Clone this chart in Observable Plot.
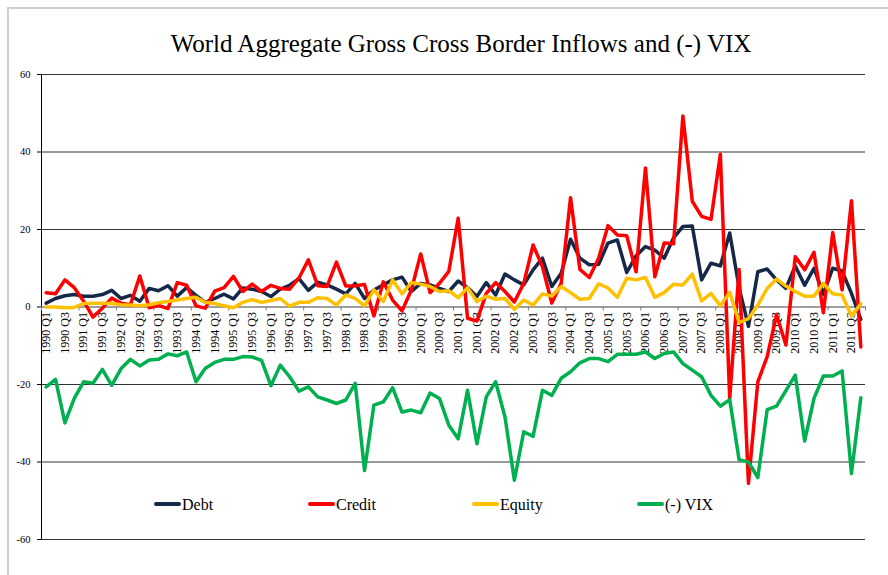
<!DOCTYPE html>
<html>
<head>
<meta charset="utf-8">
<script src="https://cdn.jsdelivr.net/npm/d3@7"></script>
<script src="https://cdn.jsdelivr.net/npm/@observablehq/plot@0.6"></script>
<style>
  html, body { margin: 0; padding: 0; background: #fff; }
  body { width: 888px; height: 575px; overflow: hidden; position: relative; font-family: "Liberation Serif", "Times New Roman", serif; }
  #frame { position: absolute; left: 7px; top: 7px; width: 900px; height: 600px; border: 2px solid #cfcfcf; box-sizing: border-box; pointer-events: none; }
  #title { position: relative; height: 62px; }
  #title span { position: absolute; left: 0; width: 922px; top: 31px; text-align: center; font-size: 25px; line-height: 25px; color: #000; white-space: nowrap; }
  #chart { position: relative; height: 513px; }
  #chart svg, #chart svg text { font-family: "Liberation Serif", "Times New Roman", serif !important; }
  .lg-sw { position: absolute; height: 4px; width: 27px; border-radius: 2px; }
  .lg-tx { position: absolute; font-size: 16px; line-height: 16px; color: #000; white-space: nowrap; }
</style>
</head>
<body>
<div id="frame"></div>
<div id="title"><span>World Aggregate Gross Cross Border Inflows and (-) VIX</span></div>
<div id="chart"></div>
<div id="legend"></div>
<script>
// Categories
const years = [1990,1991,1992,1993,1994,1995,1996,1997,1998,1999,2000,2001,2002,2003,2004,2005,2006,2007,2008,2009,2010,2011];
const quarterNames = ["Q1","Q2","Q3","Q4"];
const categories = years.flatMap(y => quarterNames.map(q => `${y} ${q}`));

// Series (quarterly, 1990 Q1 - 2011 Q4)
const debt = [
  1.0, 2.2, 2.9, 3.2, 2.8, 2.8, 3.2, 4.3, 2.2, 3.0,
  1.5, 4.8, 4.2, 5.5, 2.8, 5.0, 3.0, 1.2, 2.2, 3.3,
  2.1, 4.9, 4.6, 4.0, 2.7, 4.6, 5.6, 7.3, 4.3, 6.4,
  5.7, 4.6, 3.4, 6.1, 2.2, 4.4, 5.7, 7.0, 7.7, 4.0,
  6.1, 5.7, 4.8, 4.0, 6.7, 5.0, 2.7, 6.3, 3.1, 8.5,
  7.0, 5.7, 9.6, 12.6, 5.3, 8.7, 17.5, 12.6, 10.9, 11.0,
  16.5, 17.3, 8.9, 13.2, 15.6, 14.7, 12.6, 17.8, 20.8, 20.9,
  7.0, 11.3, 10.6, 19.1, 5.0, -5.0, 9.1, 9.8, 7.0, 4.8,
  10.6, 5.6, 10.0, 3.3, 10.0, 9.3, 3.5, -3.2
];
const credit = [
  3.7, 3.4, 7.0, 5.0, 1.5, -2.6, -0.3, 2.3, 1.0, 0.6,
  8.0, -0.2, 0.4, -0.4, 6.3, 5.6, 0.3, -0.3, 4.1, 5.0,
  7.9, 4.0, 5.9, 4.0, 5.6, 4.8, 4.6, 7.5, 12.2, 5.5,
  5.3, 11.6, 5.4, 5.5, 5.8, -2.3, 6.5, 1.8, -1.0, 4.4,
  13.7, 3.7, 6.1, 9.2, 22.9, -2.9, -3.6, 3.5, 6.3, 4.0,
  1.3, 6.1, 16.0, 10.4, 1.0, 6.1, 28.2, 9.7, 7.6, 12.6,
  21.0, 18.6, 18.4, 9.1, 35.9, 7.8, 16.5, 16.3, 49.3, 27.3,
  23.4, 22.6, 39.4, -23.6, 9.7, -45.5, -19.3, -12.8, -2.0, -9.8,
  13.0, 9.6, 14.1, -1.5, 19.2, 4.4, 27.4, -10.3
];
const equity = [
  0.0, 0.0, -0.2, -0.1, 0.9, 1.0, 1.0, 0.9, 0.6, 0.5,
  0.3, 0.6, 1.1, 1.4, 1.8, 2.2, 2.5, 1.2, 0.9, 0.3,
  -0.2, 1.2, 1.9, 1.2, 1.7, 2.2, 0.2, 1.2, 1.2, 2.4,
  2.2, 0.5, 3.1, 2.2, 0.3, 4.4, 1.4, 7.0, 3.4, 6.3,
  5.9, 5.3, 4.0, 4.2, 2.4, 5.0, 1.4, 2.8, 2.0, 2.2,
  -0.6, 1.8, 0.5, 3.4, 2.8, 5.3, 3.7, 2.0, 2.2, 6.0,
  4.9, 2.5, 7.4, 7.0, 7.6, 2.5, 3.7, 5.9, 5.7, 8.5,
  1.6, 3.5, 0.3, 3.8, -4.0, -3.0, 0.5, 4.8, 7.2, 5.4,
  4.0, 2.8, 2.8, 6.1, 3.4, 3.1, -2.3, 0.8
];
const vix = [
  -20.6, -18.7, -29.9, -23.6, -19.3, -19.7, -16.1, -20.2, -15.9, -13.5,
  -15.2, -13.7, -13.5, -12.1, -12.6, -11.6, -19.3, -15.8, -14.3, -13.5,
  -13.5, -12.8, -12.9, -13.8, -20.3, -15.0, -18.0, -21.7, -20.6, -23.2,
  -24.0, -24.9, -24.0, -19.7, -42.2, -25.3, -24.5, -20.8, -27.1, -26.6,
  -27.3, -22.2, -23.6, -30.5, -34.0, -21.5, -35.3, -23.2, -19.3, -28.4,
  -44.7, -32.2, -33.4, -21.5, -22.8, -18.4, -16.7, -14.4, -13.3, -13.3,
  -14.1, -12.2, -12.2, -12.2, -11.6, -13.3, -12.0, -11.6, -14.6, -16.3,
  -18.0, -22.8, -25.6, -23.9, -39.4, -40.0, -44.0, -26.5, -25.6, -21.6,
  -17.6, -34.6, -23.6, -17.8, -17.8, -16.5, -43.0, -23.4
];

const seriesNames = ["Debt", "Credit", "Equity", "(-) VIX"];
const seriesColors = ["#142848", "#ff0000", "#ffc000", "#00b050"];
const yTicks = [-60, -40, -20, 0, 20, 40, 60];

const serif = "Liberation Serif";

// Build long table
const seriesValues = [debt, credit, equity, vix];
const rows = seriesNames.flatMap((name, s) =>
  seriesValues[s].map((v, i) => ({series: name, idx: i, cat: categories[i], value: v})));
const labelled = categories.map((c, i) => ({idx: i, cat: c})).filter(d => d.idx % 2 === 0);
const tickIdx = categories.map((c, i) => i).filter(i => i % 4 === 0).concat([categories.length]);

const chart = Plot.plot({
  width: 888,
  height: 513,
  marginLeft: 41,
  marginRight: 23,
  marginTop: 12,
  marginBottom: 36,
  x: {domain: [0, categories.length], axis: null},
  y: {domain: [-60, 60], axis: null},
  style: {fontFamily: serif, fontSize: "10.5px", color: "#000", background: "transparent", overflow: "visible"},
  marks: [
    Plot.ruleY(yTicks.filter(d => d !== 0), {stroke: "#333", strokeWidth: 1}),
    Plot.axisY({ticks: yTicks, tickSize: 4, tickPadding: 7, tickFormat: d => String(d), label: null, stroke: "#000", fontSize: 10.5, fontFamily: serif}),
    Plot.ruleX([0], {stroke: "#000", strokeWidth: 1}),
    Plot.ruleY([0], {stroke: "#7f7f7f", strokeWidth: 1.3}),
    Plot.ruleX(tickIdx, {x: d => d, y1: 0, y2: 0, insetBottom: -4, stroke: "#7f7f7f"}),
    Plot.text(labelled, {x: d => d.idx + 0.5, y: 0, text: "cat", rotate: -90, textAnchor: "end", dy: 5, fontSize: 12, fontFamily: serif, fill: "#000"}),
    Plot.line(rows, {
      x: d => d.idx + 0.5, y: "value", z: "series", stroke: "series",
      strokeWidth: 3.5, strokeLinejoin: "round", strokeLinecap: "round"
    })
  ],
  color: {domain: seriesNames, range: seriesColors}
});
document.getElementById("chart").appendChild(chart);

// Legend (inside chart area, below the series)
const legendX = [154, 308, 472, 637];
const legend = document.getElementById("legend");
seriesNames.forEach((name, k) => {
  const sw = document.createElement("div");
  sw.className = "lg-sw";
  sw.style.left = legendX[k] + "px";
  sw.style.top = "501.5px";
  sw.style.background = seriesColors[k];
  legend.appendChild(sw);
  const tx = document.createElement("div");
  tx.className = "lg-tx";
  tx.style.left = (legendX[k] + 28) + "px";
  tx.style.top = "496.5px";
  tx.textContent = name;
  legend.appendChild(tx);
});
</script>
</body>
</html>
